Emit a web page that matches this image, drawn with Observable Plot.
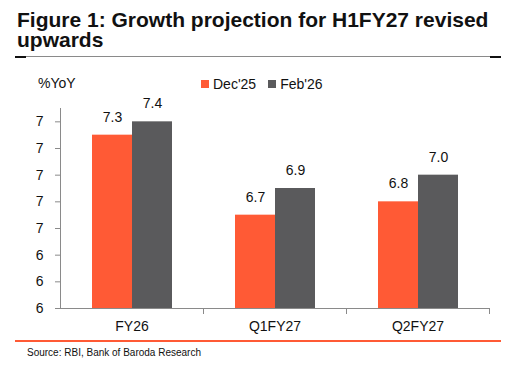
<!DOCTYPE html>
<html>
<head>
<meta charset="utf-8">
<script src="https://cdn.jsdelivr.net/npm/d3@7"></script>
<script src="https://cdn.jsdelivr.net/npm/@observablehq/plot@0.6"></script>
<style>
  html, body { margin: 0; padding: 0; background: #fff; }
  body { width: 518px; height: 371px; position: relative; overflow: hidden; font-family: "Liberation Sans", Arial, sans-serif; }
  .abs { position: absolute; white-space: nowrap; }
  #title { left: 17px; top: 10px; font-size: 21px; font-weight: bold; line-height: 20px; color: #111; white-space: normal; width: 495px; }
  #rule { left: 15px; top: 56px; width: 486px; height: 1px; background: #8a8a8a; }
  .rend { top: 56px; width: 11px; height: 2px; background: #111; }
  #unit { left: 38px; top: 75px; font-size: 14px; line-height: 16px; color: #111; }
  #legend { left: 201px; top: 76px; font-size: 14px; line-height: 16px; color: #111; display: flex; align-items: center; }
  .sw { display: inline-block; width: 8px; height: 8px; margin-right: 4px; }
  .item { display: flex; align-items: center; margin-right: 12px; }
  #chart { left: 0; top: 60px; }
  #bottomrule { left: 15px; top: 340px; width: 486px; height: 2px; background: #ff5a35; }
  #source { left: 27px; top: 347px; font-size: 10px; line-height: 12px; color: #111; }
</style>
</head>
<body>
<div id="title" class="abs">Figure 1: Growth projection for H1FY27 revised upwards</div>
<div id="rule" class="abs"></div>
<div class="abs rend" style="left:15px"></div>
<div class="abs rend" style="left:490px"></div>
<div id="unit" class="abs">%YoY</div>
<div id="legend" class="abs"></div>
<div id="chart" class="abs"></div>
<div id="bottomrule" class="abs"></div>
<div id="source" class="abs">Source: RBI, Bank of Baroda Research</div>
<script>
const categories = ["FY26", "Q1FY27", "Q2FY27"];
const seriesNames = ["Dec'25", "Feb'26"];
const dec25 = [7.3, 6.7, 6.8];
const feb26 = [7.4, 6.9, 7.0];
const yTicks = [6.0, 6.2, 6.4, 6.6, 6.8, 7.0, 7.2, 7.4];
const yDomain = [6, 7.5];
const colors = ["#ff5a35", "#5a5a5c"];

const data = [];
categories.forEach((c, i) => {
  data.push({cat: c, series: seriesNames[0], value: dec25[i]});
  data.push({cat: c, series: seriesNames[1], value: feb26[i]});
});

// legend
const legend = document.getElementById("legend");
seriesNames.forEach((s, i) => {
  const it = document.createElement("span");
  it.className = "item";
  it.innerHTML = `<span class="sw" style="background:${colors[i]}"></span>${s}`;
  legend.appendChild(it);
});

const H = 285, MT = 48, MB = 37;
const chart = Plot.plot({
  width: 518,
  height: H,
  marginLeft: 59,
  marginRight: 29,
  marginTop: MT,
  marginBottom: MB,
  style: {fontFamily: "Liberation Sans, Arial, sans-serif", fontSize: "14px", color: "#111", background: "transparent"},
  fx: {domain: categories, padding: 0, label: null, axis: null},
  x: {domain: seriesNames, paddingInner: 0, paddingOuter: 0.748, axis: null},
  y: {domain: yDomain, axis: null},
  color: {domain: seriesNames, range: colors},
  marks: [
    Plot.barY(data, {fx: "cat", x: "series", y1: yDomain[0], y2: "value", fill: "series"}),
    Plot.ruleY([yDomain[0]], {stroke: "#8a8a8a"}),
    Plot.frame({anchor: "left", facetAnchor: "left", stroke: "#8a8a8a"}),
    Plot.frame({anchor: "right", stroke: "#8a8a8a", insetTop: H - MT - MB, insetBottom: -5}),
    Plot.axisY({ticks: yTicks, tickFormat: d3.format(".0f"), tickSize: 5, tickPadding: 12, stroke: "#8a8a8a", fill: "#111", fontSize: 14, label: null}),
    Plot.axisFx({anchor: "bottom", tickSize: 0, tickPadding: 13, fontSize: 14, fill: "#111", label: null}),
    Plot.text(data, {fx: "cat", x: "series", y: "value", text: d => d.value.toFixed(1), dy: -18, fontSize: 14, fill: "#111"})
  ]
});
document.getElementById("chart").appendChild(chart);
</script>
</body>
</html>
